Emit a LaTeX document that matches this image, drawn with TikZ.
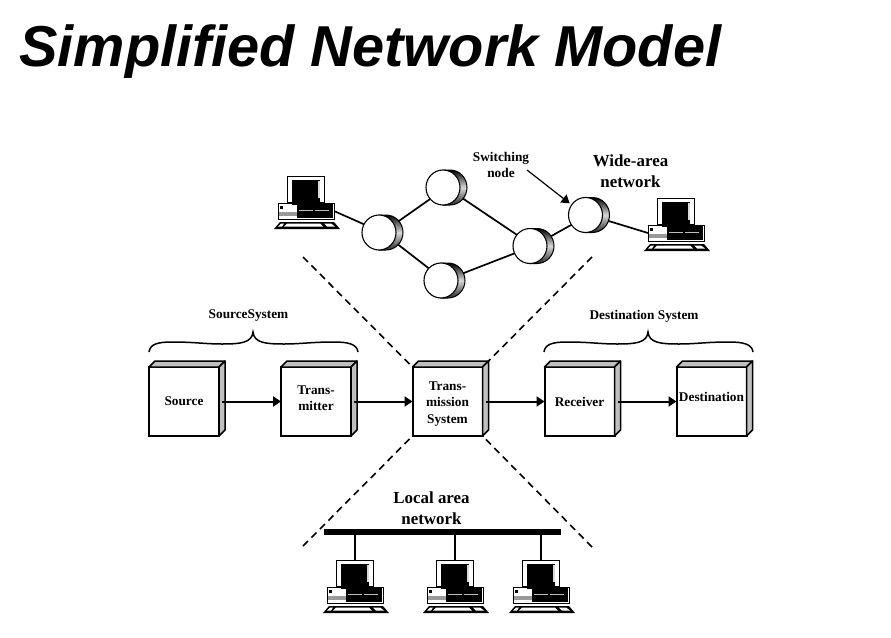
\documentclass[tikz,border=0pt]{standalone}
\usepackage{fontspec}
\setmainfont{Liberation Serif}
\newfontfamily\titlefont{Liberation Sans}
\usetikzlibrary{arrows.meta,backgrounds,shapes.geometric}

\tikzset{
    cubebox/.style={draw, line width=2pt, fill=white, minimum width=70pt, minimum height=69pt, inner sep=0pt, outer sep=0pt, align=center, font=\bfseries\fontsize{13.3}{16.5}\selectfont},
    facet/.style={draw, line width=1.5pt, fill=black!25, line join=round},
    link/.style={->, line width=2pt, shorten <=3pt},
    wire/.style={line width=1.7pt},
    drop/.style={line width=2pt},
    zone/.style={dashed, line width=1.6pt, dash pattern=on 7pt off 5pt},
    diskarea/.style={ellipse, minimum width=41pt, minimum height=35pt, inner sep=0pt, outer sep=0pt},
    diskside/.style={draw=black, line width=1pt, top color=black, bottom color=black!85, middle color=black!15},
    diskface/.style={draw=black, line width=1.1pt, fill=white},
    caption/.style={font=\bfseries\fontsize{13.3}{16}\selectfont, align=center, inner sep=0pt},
    bigcaption/.style={font=\bfseries\fontsize{16.9}{20.5}\selectfont, align=center, inner sep=0pt},
    monitor/.style={draw, line width=0.8pt, fill=white, minimum width=37pt, minimum height=26pt, inner sep=0pt, outer sep=0pt},
    unit/.style={draw, line width=0.8pt, fill=white, minimum width=56pt, minimum height=16pt, inner sep=0pt, outer sep=0pt}
}

% moves a line of box text, the box keeps its size
\newcommand{\nudge}[2]{\raisebox{#1}[9pt][3pt]{#2}}

% side of the disk first, its face on top
\newcommand{\disk}[2]{
    \node[diskarea] (#1) at (#2) {};
    \shade[diskside] ([xshift=-3.5pt]#1.north) -- ([xshift=3.5pt]#1.north) arc (-90:90:17 and 17.5) -- ([xshift=-3.5pt]#1.south) -- cycle;
    \draw[diskface] ([xshift=-3.5pt]#1.center) ellipse (17 and 17.5);
}

% origin is the top left corner of the monitor
\newcommand{\computer}[2]{
    \begin{scope}[shift={(#2)}]
        \node[monitor] (#1) at (18.5, 13) {};
        \fill (5, 4) rectangle (33, 25);
        \fill[black!15] (31, 5) rectangle (32.5, 22);
        \node[unit] (#1unit) at (19, 35) {};
        \fill (5, 25) rectangle (33, 29);
        \fill (10, 28) rectangle (46, 42);
        \fill[black!40] (-8, 36) rectangle (10, 40);
        \fill (-7, 30) rectangle (-4, 33);
        \fill[black!25] (12, 34.4) rectangle (26, 35.4);
        \fill[black!25] (28, 34.4) rectangle (42, 35.4);
        \fill (-7, 46) -- (47, 46) -- (53, 53) -- (-13, 53) -- cycle;
        \fill[white] (-6, 47.5) -- (-3, 47.5) -- (-5, 50.5) -- (-9, 50.5) -- cycle;
        \fill[white] (0, 47.5) -- (33, 47.5) -- (36, 50.5) -- (-3, 50.5) -- cycle;
        \fill[white] (37, 47.5) -- (44, 47.5) -- (48, 50.5) -- (40, 50.5) -- cycle;
    \end{scope}
}

\newcommand{\sysbrace}[1]{
    \draw[line width=1.5pt, xshift=#1pt] (149, 352) .. controls (150, 344) and (158, 342) .. (172, 342)
        .. controls (195, 342) and (205, 344) .. (222, 344)
        .. controls (240, 344) and (252, 343) .. (253, 332)
        .. controls (254, 343) and (266, 344) .. (284, 344)
        .. controls (301, 344) and (311, 342) .. (334, 342)
        .. controls (348, 342) and (357, 344) .. (358, 352);
}

\begin{document}
\begin{tikzpicture}[x=1pt, y=-1pt, >={Triangle[length=8pt, width=10pt]}]
    \useasboundingbox (0, 0) rectangle (891, 637);

    \node[anchor=base west, inner sep=0pt, font=\titlefont\bfseries\itshape\fontsize{57.7}{70}\selectfont] (title) at (19, 66) {Simplified Network Model};

    % wide area network
    \computer{pcleft}{287, 176}
    \computer{pcright}{657, 198}
    \disk{nodea}{382.5, 232.5}
    \disk{nodeb}{446.5, 187.5}
    \disk{nodec}{444.5, 280.5}
    \disk{noded}{533.5, 246}
    \disk{nodee}{589, 215}
    \begin{scope}[on background layer]
        \draw[wire] (pcleftunit.east) -- (nodea);
        \draw[wire] (nodea) -- (nodeb);
        \draw[wire] (nodea) -- (nodec);
        \draw[wire] (nodeb) -- (noded);
        \draw[wire] (nodec) -- (noded);
        \draw[wire] (noded) -- (nodee);
        \draw[wire] (nodee) -- (pcrightunit.west);
    \end{scope}
    \node[caption] (swlabel) at (501, 165) {Switching\\node};
    \node[bigcaption] (wanlabel) at (630.5, 171) {Wide-area\\network};
    \coordinate (swstart) at (527, 170);
    \draw[->, line width=1.2pt, shorten >=3pt] (swstart) -- (nodee.150);

    % the five boxes
    \node[cubebox] (src) at (184, 401.5) {Source};
    \node[cubebox] (tmt) at (316, 401.5) {\nudge{2pt}{Trans-}\\\nudge{2pt}{mitter}};
    \node[cubebox] (tms) at (447.5, 401.5) {\nudge{-2pt}{Trans-}\\\nudge{-2pt}{mission}\\\nudge{-2pt}{System}};
    \node[cubebox] (rcv) at (579.5, 401.5) {Receiver};
    \node[cubebox] (dst) at (711.5, 401.5) {\nudge{3pt}{Destination}};
    \foreach \b in {src, tmt, tms, rcv, dst} {
        \draw[facet] (\b.north west) -- ++(6, -6) -- ([shift={(6, -6)}]\b.north east) -- (\b.north east) -- cycle;
        \draw[facet] (\b.north east) -- ++(6, -6) -- ([shift={(6, -6)}]\b.south east) -- (\b.south east) -- cycle;
    }
    \draw[link] (src) -- (tmt);
    \draw[link] (tmt) -- (tms);
    \draw[link] (tms) -- (rcv);
    \draw[link] (rcv) -- (dst);

    \sysbrace{0}
    \sysbrace{395}
    \node[caption] (srclabel) at (248.5, 316) {SourceSystem};
    \node[caption] (dstlabel) at (644, 316) {Destination System};

    % dashed funnel
    \coordinate (zonea) at (303, 257);
    \coordinate (zoneb) at (592, 257);
    \coordinate (zonec) at (303, 546);
    \coordinate (zoned) at (592, 547);
    \draw[zone] (zonea) -- (tms.north west);
    \draw[zone] (zoneb) -- ([shift={(6, -6)}]tms.north east);
    \draw[zone] (zonec) -- (tms.south west);
    \draw[zone] (zoned) -- (tms.south east);

    % local area network
    \node[bigcaption] (lanlabel) at (431.5, 508) {Local area\\network};
    \node[fill=black, minimum width=237pt, minimum height=6pt, inner sep=0pt, outer sep=0pt] (bus) at (442.5, 532) {};
    \computer{pca}{336, 560}
    \computer{pcb}{436, 560}
    \computer{pcc}{522, 560}
    \draw[drop] (bus.south -| pca.north) -- (pca.north);
    \draw[drop] (bus.south -| pcb.north) -- (pcb.north);
    \draw[drop] (bus.south -| pcc.north) -- (pcc.north);
\end{tikzpicture}
\end{document}
